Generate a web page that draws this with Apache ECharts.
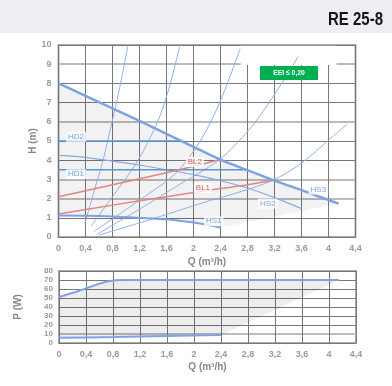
<!DOCTYPE html>
<html><head><meta charset="utf-8">
<script src="https://cdn.jsdelivr.net/npm/echarts@6/dist/echarts.min.js"></script>
<style>html,body{margin:0;padding:0;background:#fff}#c{width:392px;height:386px}</style>
</head><body><div id="c"></div>
<script>
// ---- data ----
const qTickLabels = ['0','0,4','0,8','1,2','1,6','2','2,4','2,8','3,2','3,6','4','4,4'];
const hTickLabels = ['0','1','2','3','4','5','6','7','8','9','10'];
const pTickLabels = ['0','10','20','30','40','50','60','70','80'];

const maxCurve = [[0,8],[0.4,7.35],[0.8,6.7],[1.2,6.05],[1.6,5.37],[2.0,4.7],[2.4,4.03],[2.8,3.48],[3.2,2.94],[3.6,2.44],[4.15,1.74]];
const hs1 = [[0,1.12],[0.4,1.11],[0.8,1.07],[1.2,1.0],[1.6,0.92],[2.0,0.75],[2.4,0.5]];
const hs2 = [[0,4.25],[0.4,4.15],[0.8,3.95],[1.2,3.75],[1.6,3.5],[2.0,3.25],[2.4,2.93],[2.8,2.55],[3.2,2.05],[3.6,1.48]];
const hd2 = [[0,5],[1.8,5]];
const hd1 = [[0,3.5],[2.78,3.5]];
const bl2 = [[0,2.1],[0.8,2.72],[1.6,3.35],[2.0,3.68],[2.39,4.04]];
const bl1 = [[0,1.2],[0.8,1.66],[1.6,2.1],[2.4,2.52],[2.8,2.72],[3.18,2.96]];

const sysA = [[0.39,0.7],[0.52,2.3],[0.66,4.0],[0.8,6.1],[0.92,8.0],[1.03,10]];
const sysB = [[0.49,0.6],[0.8,2.1],[1.18,4.0],[1.48,6.1],[1.65,7.9],[1.8,10]];
const sysC = [[0.53,0.3],[1.13,1.75],[1.73,3.3],[2.1,5.0],[2.4,7.1],[2.69,9.8]];
const sysD = [[0.57,0.14],[1.2,1.45],[1.73,2.6],[2.39,4.04],[2.82,5.57],[3.1,6.9],[3.4,8.52],[3.55,9.4]];
const sysE = [[0.6,0.1],[1.4,0.95],[2.2,1.85],[2.69,2.35],[3.18,2.96],[3.6,3.85],[4.0,5.04],[4.27,5.86]];

const pUpper = [[0,51],[0.3,58],[0.6,66],[0.8,69.5],[1.0,70],[4.15,70]];
const pLower = [[0,5.8],[0.8,6.6],[1.6,7.8],[2.4,9]];

const curveLabels = [
  {name:'HD2', q:0.26, h:5.22, color:'#3d8fe0'},
  {name:'HD1', q:0.26, h:3.27, color:'#3d8fe0'},
  {name:'BL2', q:2.02, h:3.91, color:'#c8333a'},
  {name:'BL1', q:2.14, h:2.55, color:'#c8333a'},
  {name:'HS1', q:2.30, h:0.82, color:'#5b8fd6'},
  {name:'HS2', q:3.10, h:1.74, color:'#5b8fd6'},
  {name:'HS3', q:3.85, h:2.47, color:'#5b8fd6'}
];

// ---- chart ----
const chart = echarts.init(document.getElementById('c'), null, {renderer:'canvas'});
const F = 'Liberation Sans';
const labelGrey = '#9a9a9a';
const dark = '#777';
const light = '#bbbbbb';
const tr = 'rgba(0,0,0,0)';

const topPoly = maxCurve.concat(hs1.slice().reverse());
const botPoly = pUpper.concat(pLower.slice().reverse());

function polySeries(poly, xi, yi, fill, extra) {
  return Object.assign({
    type:'custom', xAxisIndex:xi, yAxisIndex:yi, z:1, silent:true,
    data:[[0,0]],
    renderItem:function(params, api){
      return {type:'polygon', shape:{points: poly.map(p=>api.coord(p))}, style:{fill:fill}};
    }
  }, extra||{});
}
function line(data, color, width, xi, yi, z) {
  return {type:'line', data:data, xAxisIndex:xi||0, yAxisIndex:yi||0, symbol:'none', smooth:0.3,
    lineStyle:{color:color, width:width}, z:z||3, silent:true, animation:false};
}

const xBase = (gi, nameGap) => ({
  type:'value', gridIndex:gi, min:0, max:4.4, interval:0.4,
  axisLine:{show:false}, axisTick:{show:false},
  axisLabel:{color:labelGrey, fontFamily:F, fontWeight:'bold', fontSize:9, margin:7,
    formatter:v=>qTickLabels[Math.round(v/0.4)]},
  splitLine:{show:true, lineStyle:{color:dark, width:1}},
  name:'Q (m³/h)', nameLocation:'middle', nameGap:nameGap, nameMoveOverlap:false,
  nameTextStyle:{color:'#888', fontFamily:F, fontWeight:'bold', fontSize:10}
});

const option = {
  animation:false,
  graphic:[
    {type:'rect', z:-10, shape:{x:0, y:0, width:392, height:33}, style:{fill:'#eceef1'}},
    {type:'text', z:10, x:383, y:20, scaleX:0.79,
      style:{text:'RE 25-8', fill:'#161616', font:'bold 19px "Liberation Sans"', textAlign:'right', textVerticalAlign:'middle'}},
    {type:'rect', z:100, shape:{x:260, y:66, width:58, height:14}, style:{fill:'#00b050'}},
    {type:'text', z:101, x:289, y:73, scaleX:0.85,
      style:{text:'EEI ≤ 0,20', fill:'#fff', font:'bold 8px "Liberation Sans"', textAlign:'center', textVerticalAlign:'middle'}}
  ],
  grid:[
    {left:58.5, top:45, width:297, height:192, show:true, borderColor:'#aaaaaa', borderWidth:2, backgroundColor:'transparent'},
    {left:59, top:271, width:297, height:72, show:true, borderColor:'#aaaaaa', borderWidth:2, backgroundColor:'transparent'}
  ],
  xAxis:[xBase(0, 20), xBase(1, 19)],
  yAxis:[
    {type:'value', gridIndex:0, min:0, max:10, interval:1,
      axisLine:{show:false}, axisTick:{show:false},
      axisLabel:{color:labelGrey, fontFamily:F, fontWeight:'bold', fontSize:9, margin:7, formatter:v=>hTickLabels[Math.round(v)]},
      splitLine:{show:true, lineStyle:{color:[dark,dark,light,light,dark,dark,light,dark,dark,light,dark], width:1}},
      name:'H (m)', nameLocation:'middle', nameGap:20, nameRotate:90, nameMoveOverlap:false,
      nameTextStyle:{color:'#888', fontFamily:F, fontWeight:'bold', fontSize:10}},
    {type:'value', gridIndex:0, min:0, max:10, interval:1, position:'left',
      axisLine:{show:false}, axisTick:{show:false}, axisLabel:{show:false},
      splitLine:{show:true, lineStyle:{color:[tr,tr,light,light,tr,tr,light,tr,tr,light,tr], width:2}}},
    {type:'value', gridIndex:1, min:0, max:80, interval:10,
      axisLine:{show:false}, axisTick:{show:false},
      axisLabel:{color:labelGrey, fontFamily:F, fontWeight:'bold', fontSize:8, margin:6, formatter:v=>pTickLabels[Math.round(v/10)]},
      splitLine:{show:true, lineStyle:{color:[dark,light,dark,dark,dark,dark,dark,dark,dark], width:1}},
      name:'P (W)', nameLocation:'middle', nameGap:36, nameRotate:90, nameMoveOverlap:false,
      nameTextStyle:{color:'#888', fontFamily:F, fontWeight:'bold', fontSize:10}},
    {type:'value', gridIndex:1, min:0, max:80, interval:10, position:'left',
      axisLine:{show:false}, axisTick:{show:false}, axisLabel:{show:false},
      splitLine:{show:true, lineStyle:{color:[tr,light,tr,tr,tr,tr,tr,tr,tr], width:2}}}
  ],
  series:[
    polySeries(topPoly, 0, 0, 'rgba(0,0,0,0.05)', {
      markArea:{silent:true, itemStyle:{color:'#ffffff'}, data:[[{coord:[2.7,8.96]},{coord:[4.12,9.96]}]]}
    }),
    polySeries(botPoly, 1, 2, 'rgba(0,0,0,0.07)'),
    line(sysA,'#8fb0ec',1), line(sysB,'#8fb0ec',1), line(sysC,'#8fb0ec',1),
    line(sysD,'#8fb0ec',1), line(sysE,'#8fb0ec',1),
    line(hs2,'#86a8e6',1.2),
    line(hd2,'#5a96d6',1.5), line(hd1,'#5a96d6',1.5),
    line(bl2,'#e08585',1.5), line(bl1,'#e08585',1.5),
    line(hs1,'#7ea2e4',2,0,0,4), line(maxCurve,'#7ea2e4',2.5,0,0,4),
    line(pUpper,'#7ea2e4',2,1,2,4), line(pLower,'#7ea2e4',2,1,2,4),
    {type:'scatter', xAxisIndex:0, yAxisIndex:0, symbolSize:0, z:6, silent:true,
      data:curveLabels.map(l=>({value:[l.q,l.h], label:{show:true, position:'inside', formatter:l.name,
        color:l.color, fontFamily:F, fontSize:8, backgroundColor:'#fff', padding:[1,2]}}))}
  ]
};
chart.setOption(option);
</script></body></html>
